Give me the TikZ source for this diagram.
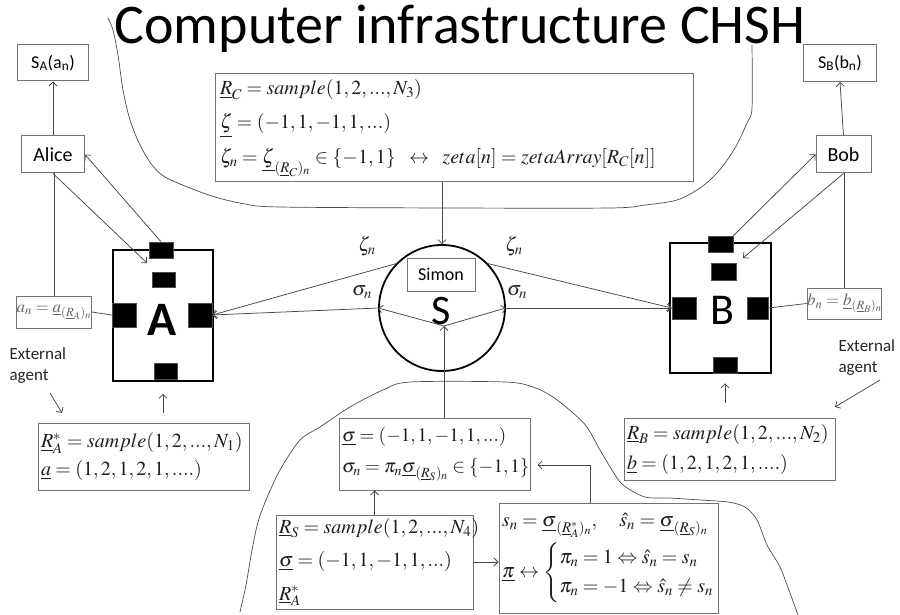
\documentclass[tikz,border=0pt]{standalone}
\usepackage{amsmath}
\usepackage[no-math]{fontspec}
\usepackage{mathptmx}
\setmainfont{Carlito}
\usetikzlibrary{arrows.meta,calc}

\begin{document}
\begin{tikzpicture}[x=1pt,y=-1pt,
  conn/.style={draw=black!72,line width=0.75pt},
  arr/.style={conn,-{Straight Barb[length=4pt,width=8pt]}},
  frame/.style={draw=black!55,line width=1pt,fill=white,inner sep=0pt},
  mathbox/.style={frame,align=left,text=black!88},
  pad/.style={fill=black,draw=black!70,line width=0.6pt,inner sep=0pt},
  unit/.style={draw=black,line width=1.8pt,inner sep=0pt},
  curve/.style={draw=black!70,line width=0.7pt},
  mlabel/.style={font=\fontsize{20}{22}\selectfont,text=black!85},
]
\useasboundingbox (0,0) rectangle (900,615);

% network boundaries
\draw[curve] plot[smooth,tension=0.5] coordinates {
  (108,18) (113,30) (118,55) (123,90) (130,120) (140,145) (152,165) (165,177)
  (190,188) (215,197) (245,204) (280,207) (450,208) (610,208) (645,205)
  (677,200) (700,188) (718,172) (735,148) (747,123) (752,108) (752,45)};
\draw[curve] plot[smooth,tension=0.5] coordinates {
  (240,612) (246,585) (252,550) (258,522) (266,500) (280,470) (300,440)
  (320,427) (350,407) (383,390) (410,382) (505,382) (533,387) (553,397)
  (573,413) (587,427) (600,450) (612,470) (623,485) (645,497) (670,498)
  (700,500) (728,502) (745,507) (757,520) (767,545) (780,567) (790,593) (798,615)};

% title
\node[font=\fontsize{56}{60}\selectfont,anchor=base] (title) at (460,44) {Computer infrastructure CHSH};

% Alice side
\node[frame,minimum width=71pt,minimum height=36pt,font=\fontsize{18}{20}\selectfont] (SA) at (53,63) {S\textsubscript{A}(a\textsubscript{n})};
\node[frame,minimum width=63pt,minimum height=37pt,font=\fontsize{20}{22}\selectfont] (alice) at (53,154.5) {Alice};
\node[frame,minimum width=74pt,minimum height=32pt,text=black!60,font=\fontsize{17}{19}\selectfont] (an) at (54,312) {$a_n=\underline{a}_{(\underline{R}_A)_n}$};

\node[unit,minimum width=100pt,minimum height=131pt] (A) at (163,315.5) {};
\node[font=\fontsize{48}{50}\selectfont\bfseries] (Aletter) at (162,320) {A};
\node[pad,minimum width=24pt,minimum height=16pt] (At) at (161,250) {};
\node[pad,minimum width=23pt,minimum height=15pt] (A2) at (163.5,279.5) {};
\node[pad,minimum width=24pt,minimum height=24pt] (Al) at (124,315) {};
\node[pad,minimum width=24pt,minimum height=24pt] (Ar) at (200,315) {};
\node[pad,minimum width=23pt,minimum height=16pt] (Ab) at (165.5,371) {};

% Bob side
\node[frame,minimum width=73pt,minimum height=37pt,font=\fontsize{18}{20}\selectfont] (SB) at (840,63) {S\textsubscript{B}(b\textsubscript{n})};
\node[frame,minimum width=55pt,minimum height=37pt,font=\fontsize{20}{22}\selectfont] (bob) at (843.5,154.5) {Bob};
\node[frame,minimum width=73pt,minimum height=31pt,text=black!60,font=\fontsize{17}{19}\selectfont] (bn) at (844.5,303.5) {$b_n=\underline{b}_{(\underline{R}_B)_n}$};

\node[unit,minimum width=101pt,minimum height=130pt] (B) at (720.5,308) {};
\node[font=\fontsize{44}{46}\selectfont] (Bletter) at (722,310) {B};
\node[pad,minimum width=25pt,minimum height=16pt] (Bt) at (720.5,244) {};
\node[pad,minimum width=25pt,minimum height=17pt] (B2) at (723.5,271.5) {};
\node[pad,minimum width=24pt,minimum height=22pt] (Bl) at (684,308) {};
\node[pad,minimum width=21pt,minimum height=22pt] (Br) at (757.5,308) {};
\node[pad,minimum width=24pt,minimum height=16pt] (Bb) at (725,365) {};

% Simon
\node[unit,circle,minimum size=126pt] (S) at (442,308) {};
\node[frame,minimum width=68pt,minimum height=33pt,font=\fontsize{18}{20}\selectfont] (simon) at (441,274.5) {Simon};
\node[font=\fontsize{42}{44}\selectfont] (Sletter) at (441,311) {S};
\coordinate (hub) at (444,326);

\node[mlabel] (zL) at (367,246) {$\zeta_n$};
\node[mlabel] (zR) at (514,246) {$\zeta_n$};
\node[mlabel] (sL) at (362,292) {$\sigma_n$};
\node[mlabel] (sR) at (517,292) {$\sigma_n$};

% formula boxes
\node[mathbox,minimum width=478pt,minimum height=108pt,text width=468pt,font=\fontsize{20}{34.5}\selectfont] (Rc) at (454,128)
  {${\underline{R}_C = sample(1,2,...,N_3)}$\\
   ${\underline{\zeta} = (-1,1,-1,1,...)}$\\
   ${\zeta_n = \underline{\zeta}_{(\underline{R}_C)_n} \in \{-1,1\} \;\;\leftrightarrow\;\; zeta[n] = zetaArray[R_C[n]]}$};

\node[mathbox,minimum width=191pt,minimum height=72pt,text width=185pt,font=\fontsize{19}{31}\selectfont] (sig) at (434.5,454)
  {${\underline{\sigma} = (-1,1,-1,1,...)}$\\
   ${\sigma_n = \pi_n\underline{\sigma}_{(\underline{R}_S)_n} \in \{-1,1\}}$};

\node[mathbox,minimum width=197pt,minimum height=94pt,text width=191pt,font=\fontsize{20}{33.5}\selectfont] (RS) at (374.5,562)
  {${\underline{R}_S = sample(1,2,...,N_4)}$\\
   ${\underline{\sigma} = (-1,1,-1,1,...)}$\\
   ${\underline{R}^*_A}$};

\node[mathbox,minimum width=219pt,minimum height=110pt,text width=213pt,font=\fontsize{20}{24}\selectfont] (pi) at (608.5,558)
  {${s_n = \underline{\sigma}_{(\underline{R}^*_A)_n}, \quad \hat{s}_n = \underline{\sigma}_{(\underline{R}_S)_n}}$\\[4pt]
   ${\underline{\pi} \leftrightarrow \begin{cases} \pi_n = 1 \Leftrightarrow \hat{s}_n = s_n\\ \pi_n = -1 \Leftrightarrow \hat{s}_n \neq s_n \end{cases}}$};

\node[mathbox,minimum width=211pt,minimum height=67pt,text width=205pt,font=\fontsize{20}{28}\selectfont] (RA) at (143.5,456.5)
  {${\underline{R}^*_A = sample(1,2,...,N_1)}$\\
   ${\underline{a} = (1,2,1,2,1,....)}$};

\node[mathbox,minimum width=211pt,minimum height=62pt,text width=205pt,font=\fontsize{20}{30}\selectfont] (RB) at (729.5,449)
  {${\underline{R}_B = sample(1,2,...,N_2)}$\\
   ${\underline{b} = (1,2,1,2,1,....)}$};

% external agents
\node[anchor=west,align=left,font=\fontsize{17}{21}\selectfont,text=black!85] (extA) at (6,366) {External\\agent};
\node[anchor=west,align=left,font=\fontsize{17}{21}\selectfont,text=black!85] (extB) at (835,358) {External\\agent};
\coordinate (eA1) at (50,393);
\coordinate (eA2) at (62,413);
\coordinate (eB1) at (880,380);
\coordinate (eB2) at (835,407);
\draw[arr] (eA1) -- (eA2);
\draw[arr] (eB1) -- (eB2);

% Alice connectors
\draw[arr] (alice.north) -- (SA.south);
\draw[conn] (an.north) -- (an.north |- alice.south);
\draw[conn] (an.east) -- (Al.west);
\coordinate (Ain) at (147,263);
\draw[arr] (alice.south) -- (Ain);
\draw[arr] (At.north) -- (alice.east);

% Bob connectors
\draw[arr] (bob.north) -- (SB.south);
\draw[conn] (bn.north) -- (bn.north |- bob.south);
\draw[conn] (bn.west) -- (Br.east);
\coordinate (Bin) at (743,258);
\draw[arr] (bob.south) -- (Bin);
\draw[arr] (Bt.north east) -- (bob.west);

% Simon connectors
\draw[arr] (Rc.south -| S.north) -- (S.north);
\draw[arr] (S.136) -- (Ar.east);
\draw[arr] (S.west) -- (Ar.east);
\draw[arr] (S.44) -- (Bl.west);
\draw[arr] (S.east) -- (Bl.west);
\draw[arr] (hub) -- (S.west);
\draw[arr] (hub) -- (S.east);
\draw[arr] (sig.north -| hub) -- (hub);

% lower connectors
\draw[arr,shorten <=10pt,shorten >=12pt] (RA.north -| A.south) -- (A.south);
\draw[arr,shorten <=15pt,shorten >=10pt] (RB.north -| Bb.south) -- (Bb.south);
\draw[arr] (RS.north) -- (RS.north |- sig.south);
\draw[arr] (RS.east) -- (RS.east -| pi.west);
\coordinate (piUp) at (590,465);
\draw[arr,shorten >=7pt] (pi.north -| piUp) -- (piUp) -- (piUp -| sig.east);
\end{tikzpicture}
\end{document}
